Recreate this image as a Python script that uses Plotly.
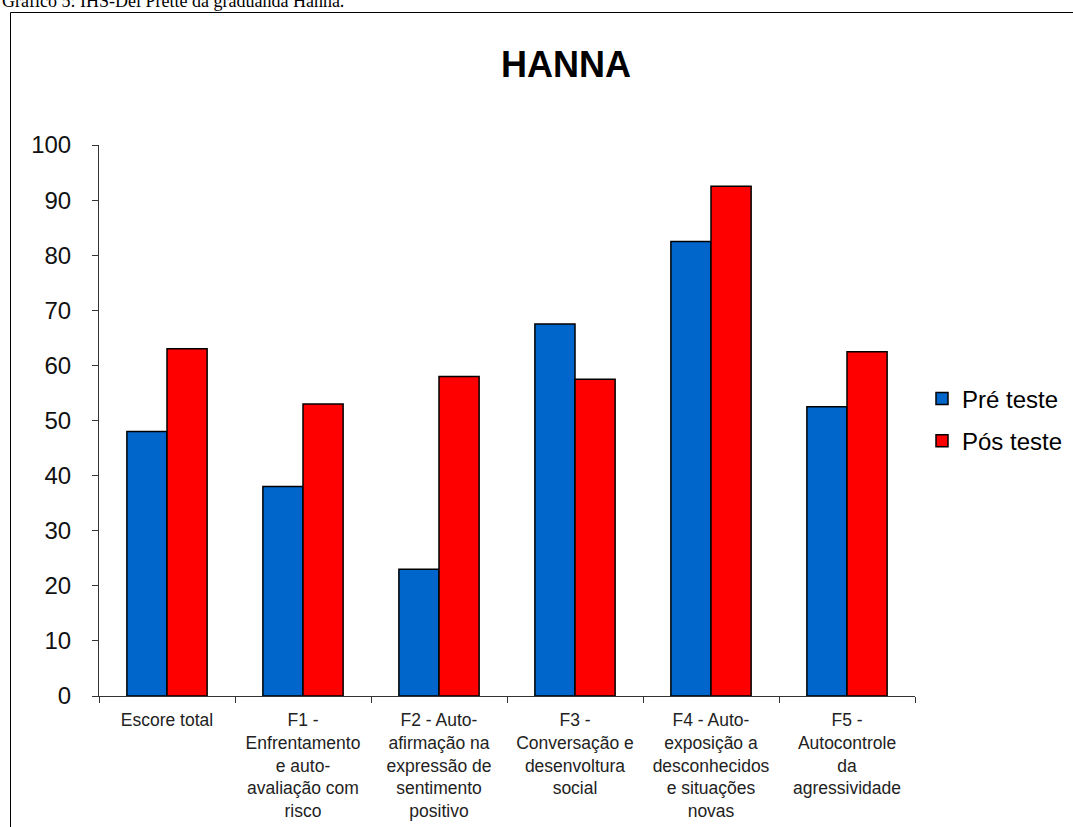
import plotly.graph_objects as go

categories = [
    "Escore total",
    "F1 -<br>Enfrentamento<br>e auto-<br>avaliação com<br>risco",
    "F2 - Auto-<br>afirmação na<br>expressão de<br>sentimento<br>positivo",
    "F3 -<br>Conversação e<br>desenvoltura<br>social",
    "F4 - Auto-<br>exposição a<br>desconhecidos<br>e situações<br>novas",
    "F5 -<br>Autocontrole<br>da<br>agressividade",
]
pre_teste = [48, 38, 23, 67.5, 82.5, 52.5]
pos_teste = [63, 53, 58, 57.5, 92.5, 62.5]

W, H = 1073, 827
L, R, T, B = 99, 158, 145, 131
pw = W - L - R
ph = H - T - B

def px_x(x):
    return (x - L) / pw

def px_y(y):
    return (H - B - y) / ph

FONT = "Liberation Sans, Arial, sans-serif"

fig = go.Figure()
fig.add_trace(go.Bar(
    x=categories, y=pre_teste, name="Pré teste",
    marker=dict(color="#0066CC", line=dict(color="black", width=1.5)),
    legendgroup="a",
))
fig.add_trace(go.Bar(
    x=categories, y=pos_teste, name="Pós teste",
    marker=dict(color="#FF0000", line=dict(color="black", width=1.5)),
    legendgroup="b",
))

fig.update_layout(
    width=W, height=H,
    margin=dict(l=L, r=R, t=T, b=B, autoexpand=False),
    paper_bgcolor="white", plot_bgcolor="white",
    barmode="group", bargap=0.41, bargroupgap=0,
    font=dict(family=FONT, color="black"),
    showlegend=True,
    legend=dict(
        x=px_x(922), y=px_y(420), xanchor="left", yanchor="middle",
        font=dict(family=FONT, size=24, color="black"),
        bgcolor="rgba(0,0,0,0)", itemwidth=30,
        traceorder="grouped", tracegroupgap=8,
    ),
    xaxis=dict(
        showline=True, linecolor="#333", linewidth=1,
        ticks="outside", tickson="boundaries", ticklen=6, tickcolor="#333",
        tickfont=dict(family=FONT, size=17.5, color="#222"),
        showgrid=False, tickangle=0, ticklabelstandoff=8,
    ),
    yaxis=dict(
        range=[0, 100], dtick=10, showline=True, linecolor="#333", linewidth=1,
        ticks="outside", ticklen=6, tickcolor="#333",
        tickfont=dict(family=FONT, size=24, color="#111"),
        showgrid=False, zeroline=False, ticklabelstandoff=16,
    ),
    shapes=[
        dict(type="rect", xref="paper", yref="paper",
             x0=px_x(10.5), x1=px_x(1080), y0=px_y(840), y1=px_y(12.5),
             line=dict(color="black", width=1), fillcolor="rgba(0,0,0,0)", layer="below"),
    ],
    annotations=[
        dict(text="<b>HANNA</b>", xref="paper", yref="paper",
             x=px_x(566), y=px_y(64), xanchor="center", yanchor="middle",
             showarrow=False, font=dict(family=FONT, size=36, color="black")),
        dict(text="Gráfico 5: IHS-Del Prette da graduanda Hanna.", xref="paper", yref="paper",
             x=px_x(0), y=px_y(13), xanchor="left", yanchor="bottom",
             showarrow=False, font=dict(family="Liberation Serif, Times New Roman, serif", size=18, color="black")),
    ],
)

fig.write_html("out.html")
